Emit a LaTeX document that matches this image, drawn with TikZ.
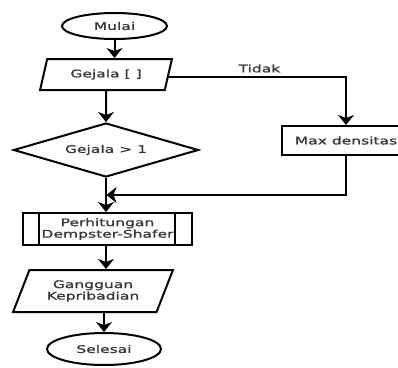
\documentclass[tikz,border=0pt]{standalone}
\usepackage{fontspec}
\newfontfamily\dvfont[FakeStretch=1.48,FakeBold=1.2]{DejaVu Sans}
\usetikzlibrary{shapes.geometric,arrows.meta}
\begin{document}
\begin{tikzpicture}[x=1pt,y=-1pt,
  every node/.style={font=\dvfont\fontsize{10.5}{11.5}\selectfont, text=black!78, inner sep=0pt, align=center},
  ln/.style={line width=2pt, draw=black},
  arr/.style={ln, -{Stealth[length=10pt,width=16pt,inset=3pt]}},
  term/.style={ellipse, ln},
  para/.style={trapezium, trapezium stretches=true, ln},
  dec/.style={diamond, aspect=3.4, ln},
  procbox/.style={rectangle, ln}
]
\useasboundingbox (0,0) rectangle (398,367);
\fill[white] (0,0) rectangle (398,367);

\node[term, minimum width=105pt, minimum height=26pt] (mulai) at (114.5,26) {Mulai};
\node[para, trapezium left angle=67, trapezium right angle=113, minimum width=132pt, minimum height=31pt] (gejala) at (106,74.5) {Gejala [ ]};
\node[dec, minimum width=185pt, minimum height=54pt] (cond) at (106,150) {Gejala > 1};
\node[procbox, minimum width=169pt, minimum height=32pt] (proc) at (107.5,229) {Perhitungan\\Dempster-Shafer};
\draw[ln] ([xshift=17pt]proc.north west) -- ([xshift=17pt]proc.south west);
\draw[ln] ([xshift=-18pt]proc.north east) -- ([xshift=-18pt]proc.south east);
\node[para, trapezium left angle=61, trapezium right angle=119, minimum width=160pt, minimum height=42pt] (gangguan) at (93,291) {Gangguan\\Kepribadian};
\node[term, minimum width=114pt, minimum height=32pt] (selesai) at (104,349) {Selesai};
\node[procbox, minimum width=128pt, minimum height=29pt] (maxd) at (346,140.5) {Max densitas};
\coordinate (merge) at (106,195);

\draw[arr] (mulai.south) -- (mulai.south |- gejala.north);
\draw[arr] (gejala.south) -- (cond.north);
\draw[arr] (cond.south) -- (cond.south |- proc.north);
\draw[arr] (cond.south |- proc.south) -- (cond.south |- gangguan.north);
\draw[arr] (selesai.north |- gangguan.south) -- (selesai.north);
\draw[arr] ([yshift=-2pt]gejala.east) -| node[pos=0.255, above=3pt] {Tidak} (maxd.north);
\draw[arr, shorten >=0.5pt] (maxd.south) |- (merge);
\end{tikzpicture}
\end{document}
